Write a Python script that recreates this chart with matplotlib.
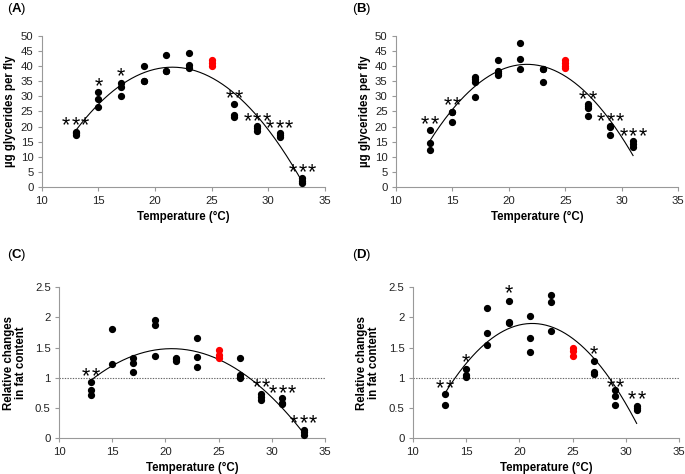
import matplotlib.pyplot as plt
import numpy as np

plt.rcParams['font.family'] = ['Liberation Sans', 'DejaVu Sans']
plt.rcParams['mathtext.fontset'] = 'custom'
plt.rcParams['mathtext.rm'] = 'Liberation Sans'
plt.rcParams['mathtext.bf'] = 'Liberation Sans:bold'

# temperatures (deg C) and per-replicate values
temps_a = [13, 15, 17, 19, 21, 23, 25, 27, 29, 31, 33]
vals_a = [[18.2, 17.8, 17.4], [31.4, 29.2, 26.5], [34.3, 33.0, 30.1],
          [40.0, 35.2, 35.0], [43.5, 38.4, 38.4], [44.4, 40.2, 39.5],
          [42.0, 41.0, 40.0], [27.6, 23.7, 23.3], [20.2, 19.5, 18.6],
          [17.8, 17.3, 16.7], [2.9, 2.2, 1.5]]
stars_a = [(13, 22.5, '***'), (15, 35.4, '*'), (17, 38.7, '*'), (27, 31.2, '**'),
           (29, 23.8, '***'), (31, 21.4, '***'), (33, 6.8, '***')]

temps_b = [13, 15, 17, 19, 21, 23, 25, 27, 29, 31]
vals_b = [[18.9, 14.7, 12.4], [24.7, 24.7, 21.6], [36.3, 35.6, 34.8, 29.8],
          [41.9, 38.2, 37.8, 37.0], [47.5, 42.2, 39.0], [38.9, 38.9, 34.7],
          [42.0, 41.0, 40.0, 39.5], [27.5, 26.8, 26.2, 23.5], [20.2, 19.8, 17.3],
          [15.1, 14.3, 13.2]]
stars_b = [(13, 22.7, '**'), (15, 29.0, '**'), (27, 31.0, '**'),
           (29, 23.8, '***'), (31, 18.9, '***')]

temps_c = [13, 15, 17, 19, 21, 23, 25, 27, 29, 31, 33]
vals_c = [[0.93, 0.80, 0.72], [1.80, 1.22], [1.33, 1.24, 1.09],
          [1.96, 1.87, 1.36], [1.33, 1.31, 1.27], [1.65, 1.35, 1.17],
          [1.46, 1.37, 1.33], [1.32, 1.04, 1.01, 0.99], [0.73, 0.68, 0.64],
          [0.66, 0.59, 0.56], [0.13, 0.10, 0.06]]
stars_c = [(13, 1.12, '**'), (29, 0.95, '**'), (31, 0.85, '***'), (33, 0.34, '***')]

temps_d = [13, 15, 17, 19, 21, 23, 25, 27, 29, 31]
vals_d = [[0.73, 0.55], [1.15, 1.05, 1.01], [2.16, 1.74, 1.55],
          [2.27, 1.93, 1.91], [2.02, 1.65, 1.42], [2.37, 2.25, 1.78],
          [1.50, 1.44, 1.36], [1.28, 1.10, 1.07], [0.79, 0.70, 0.55],
          [0.53, 0.50, 0.46]]
stars_d = [(13, 0.92, '**'), (15, 1.35, '*'), (19, 2.5, '*'), (27, 1.48, '*'),
           (29, 0.95, '**'), (31, 0.74, '**')]

control_temp = 25


def draw_panel(ax, temps, vals, stars, ymax, ystep, ylabel, ypad, ref_line=False):
    xs, ys = [], []
    for t, v in zip(temps, vals):
        xs += [t] * len(v)
        ys += v
        color = 'red' if t == control_temp else 'black'
        ax.plot([t] * len(v), v, 'o', color=color, markersize=4.2, zorder=3, clip_on=False)

    # 2nd order polynomial trendline through all points
    coef = np.polyfit(xs, ys, 2)
    xf = np.linspace(min(temps), max(temps), 200)
    ax.plot(xf, np.polyval(coef, xf), color='black', lw=0.8, zorder=2)

    if ref_line:
        ax.axhline(1, color='#666666', lw=0.8, ls=(0, (1.2, 1.2)), zorder=1)

    for x, y, s in stars:
        n = len(s)
        for i in range(n):
            dx = (i - (n - 1) / 2) * 6.8
            ax.annotate('*', (x, y), xytext=(dx, -8.6), textcoords='offset points',
                        ha='center', va='baseline', fontsize=15.5)

    ax.set_xlim(10, 35)
    ax.set_ylim(0, ymax)
    ax.set_xticks(np.arange(10, 36, 5))
    yt = np.arange(0, ymax + ystep / 2, ystep)
    ax.set_yticks(yt)
    ax.set_yticklabels(['%g' % v for v in yt])
    for side in ['top', 'right']:
        ax.spines[side].set_visible(False)
    for side in ['left', 'bottom']:
        ax.spines[side].set_color('#999999')
        ax.spines[side].set_linewidth(0.8)
    ax.tick_params(direction='out', length=3, width=0.8, color='#999999',
                   labelsize=8.2, pad=3, labelcolor='#222222')
    ax.set_xlabel('Temperature (°C)', fontsize=8.3, fontweight='bold', labelpad=4)
    ax.set_ylabel(ylabel, fontsize=8.3, fontweight='bold', labelpad=ypad, linespacing=1.0)


fig = plt.figure(figsize=(6.85, 4.74), dpi=100)
ax_a = fig.add_axes([0.0609, 0.6049, 0.4136, 0.3198])
ax_b = fig.add_axes([0.578, 0.6049, 0.4121, 0.3198])
ax_c = fig.add_axes([0.0861, 0.0753, 0.3883, 0.3192])
ax_d = fig.add_axes([0.6025, 0.0753, 0.3892, 0.3192])

draw_panel(ax_a, temps_a, vals_a, stars_a, 50, 5, 'µg glycerides per fly', 3)
draw_panel(ax_b, temps_b, vals_b, stars_b, 50, 5, 'µg glycerides per fly', 3)
draw_panel(ax_c, temps_c, vals_c, stars_c, 2.5, 0.5, 'Relative changes\nin fat content', 6, True)
draw_panel(ax_d, temps_d, vals_d, stars_d, 2.5, 0.5, 'Relative changes\nin fat content', 6, True)

for letter, x, y in [('A', 0.010, 0.981), ('B', 0.514, 0.981), ('C', 0.010, 0.462), ('D', 0.514, 0.462)]:
    fig.text(x, y, r'($\mathbf{%s}$)' % letter, fontsize=9.5, va='center')

fig.savefig('out.png', dpi=100)
